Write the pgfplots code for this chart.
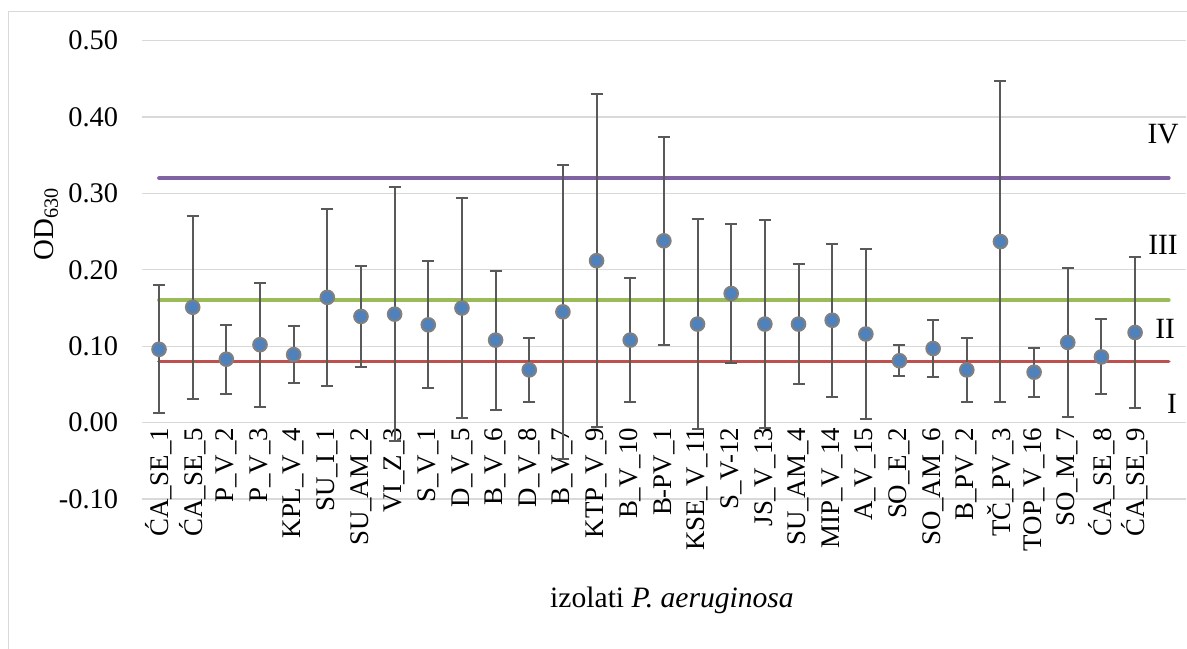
\documentclass[border=0pt]{standalone}
\usepackage{fontspec}
\setmainfont{Liberation Serif}
\usepackage{pgfplots}
\pgfplotsset{compat=1.18}
\definecolor{mblue}{HTML}{4F81BD}
\definecolor{mborder}{HTML}{808080}
\definecolor{ebar}{HTML}{595959}
\definecolor{lred}{HTML}{C0504D}
\definecolor{lgreen}{HTML}{9BBB59}
\definecolor{lpurple}{HTML}{8064A2}
\definecolor{gridc}{HTML}{D9D9D9}
\begin{document}
\begin{tikzpicture}[x=1bp,y=1bp]
\path[use as bounding box] (0,0) rectangle (1187,649);
\draw[color=gridc, line width=1.3bp] (8.5,-5) -- (8.5,637.3) -- (1195,637.3);
\begin{axis}[
  at={(142.2bp,150bp)}, anchor=south west,
  scale only axis, width=1043.4bp, height=458.3bp,
  xmin=-0.5, xmax=30.5, ymin=-0.1, ymax=0.5,
  axis x line*=middle, axis y line*=left,
  x axis line style={draw=none}, y axis line style={draw=none},
  xtick={0,...,29},
  xticklabels={ĆA\_SE\_1,ĆA\_SE\_5,P\_V\_2,P\_V\_3,KPL\_V\_4,SU\_I\_1,SU\_AM\_2,VI\_Z\_3,S\_V\_1,D\_V\_5,B\_V\_6,D\_V\_8,B\_V\_7,KTP\_V\_9,B\_V\_10,B-PV\_1,KSE\_V\_11,S\_V-12,JS\_V\_13,SU\_AM\_4,MIP\_V\_14,A\_V\_15,SO\_E\_2,SO\_AM\_6,B\_PV\_2,TČ\_PV\_3,TOP\_V\_16,SO\_M\_7,ĆA\_SE\_8,ĆA\_SE\_9},
  ytick={-0.1,0,0.1,0.2,0.3,0.4,0.5},
  yticklabels={-0.10,0.00,0.10,0.20,0.30,0.40,0.50},
  ymajorgrids, major grid style={color=gridc, line width=1.3bp},
  major tick length=0pt,
  xticklabel style={rotate=90, anchor=east, inner sep=0pt, inner xsep=5bp, font=\fontsize{27}{32}\selectfont},
  yticklabel style={anchor=east, inner sep=0pt, xshift=-24bp, font=\fontsize{28.5}{34}\selectfont},
  clip=false,
]
\addplot[lred, line width=3.8bp, line cap=round] coordinates {(0,0.08) (30,0.08)};
\addplot[lgreen, line width=3.8bp, line cap=round] coordinates {(0,0.16) (30,0.16)};
\addplot[lpurple, line width=3.8bp, line cap=round] coordinates {(0,0.32) (30,0.32)};
\addplot[only marks, mark=*, mark size=6.8bp,
  mark options={fill=mblue, draw=mborder, line width=2bp},
  error bars/.cd, y dir=both, y explicit,
  error bar style={line width=2bp, color=ebar},
  error mark options={rotate=90, mark size=6bp, line width=2bp, color=ebar}]
coordinates {
(0,0.096) +- (0,0.084)
(1,0.151) +- (0,0.120)
(2,0.083) +- (0,0.045)
(3,0.102) +- (0,0.081)
(4,0.089) +- (0,0.037)
(5,0.164) +- (0,0.116)
(6,0.139) +- (0,0.066)
(7,0.142) +- (0,0.166)
(8,0.128) +- (0,0.083)
(9,0.150) +- (0,0.144)
(10,0.108) +- (0,0.091)
(11,0.069) +- (0,0.042)
(12,0.145) +- (0,0.192)
(13,0.212) +- (0,0.218)
(14,0.108) +- (0,0.081)
(15,0.238) +- (0,0.136)
(16,0.129) +- (0,0.138)
(17,0.169) +- (0,0.091)
(18,0.129) +- (0,0.136)
(19,0.129) +- (0,0.078)
(20,0.134) +- (0,0.100)
(21,0.116) +- (0,0.111)
(22,0.081) +- (0,0.020)
(23,0.097) +- (0,0.037)
(24,0.069) +- (0,0.042)
(25,0.237) +- (0,0.210)
(26,0.066) +- (0,0.032)
(27,0.105) +- (0,0.098)
(28,0.086) +- (0,0.049)
(29,0.118) +- (0,0.099)
};
\node[font=\fontsize{29.5}{34}\selectfont] at (axis cs:29.83,0.378) {IV};
\node[font=\fontsize{29.5}{34}\selectfont] at (axis cs:29.83,0.2326) {III};
\node[font=\fontsize{29.5}{34}\selectfont] at (axis cs:29.89,0.123) {II};
\node[font=\fontsize{29.5}{34}\selectfont] at (axis cs:30.1,0.024) {I};
\end{axis}
\node[anchor=base, font=\fontsize{29.7}{34}\selectfont] at (672,41.3) {izolati \textit{P. aeruginosa}};
\node[rotate=90, anchor=base, font=\fontsize{29}{34}\selectfont] at (53,425) {OD\textsubscript{630}};
\end{tikzpicture}
\end{document}
